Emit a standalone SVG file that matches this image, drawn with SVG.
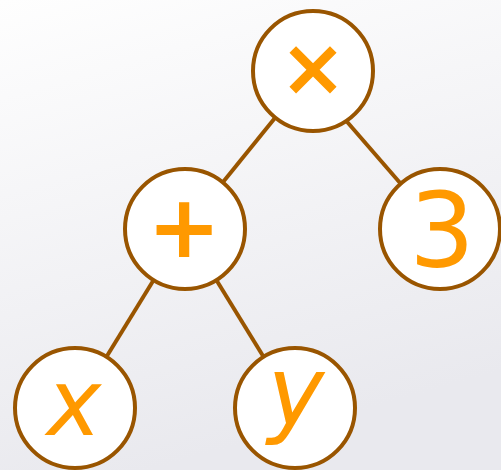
<svg xmlns="http://www.w3.org/2000/svg" width="501" height="470" viewBox="0 0 501 470">
<defs>
<linearGradient id="bg" x1="0" y1="0" x2="0.3" y2="1">
<stop offset="0" stop-color="#fefefe"/>
<stop offset="1" stop-color="#e9e9ee"/>
</linearGradient>
</defs>
<style>
.node circle{fill:#ffffff;stroke:#995500;stroke-width:4}
.node text{fill:#ff9900;font-family:"DejaVu Sans",sans-serif;text-anchor:middle}
.op{font-weight:bold}
.var{font-style:italic}
#edges line{stroke:#995500;stroke-width:4}
</style>
<rect width="501" height="470" fill="url(#bg)"/>
<g id="edges">
<line x1="313" y1="71" x2="185" y2="229"/>
<line x1="303" y1="71" x2="440" y2="229"/>
<line x1="185" y1="229" x2="75" y2="408"/>
<line x1="185" y1="229" x2="295" y2="408"/>
</g>
<g id="n-times" class="node"><circle cx="313" cy="71" r="60"/><text class="op" x="313" y="95" font-size="80">×</text></g>
<g id="n-plus" class="node"><circle cx="185" cy="229" r="60"/><text class="op" x="184" y="257" font-size="88">+</text></g>
<g id="n-3" class="node"><circle cx="440" cy="229" r="60"/><text x="442" y="267" font-size="103">3</text></g>
<g id="n-x" class="node"><circle cx="75" cy="408" r="60"/><text class="var" x="74" y="435" font-size="92">x</text></g>
<g id="n-y" class="node"><circle cx="295" cy="408" r="60"/><text class="var" x="296" y="425" font-size="96">y</text></g>
</svg>
